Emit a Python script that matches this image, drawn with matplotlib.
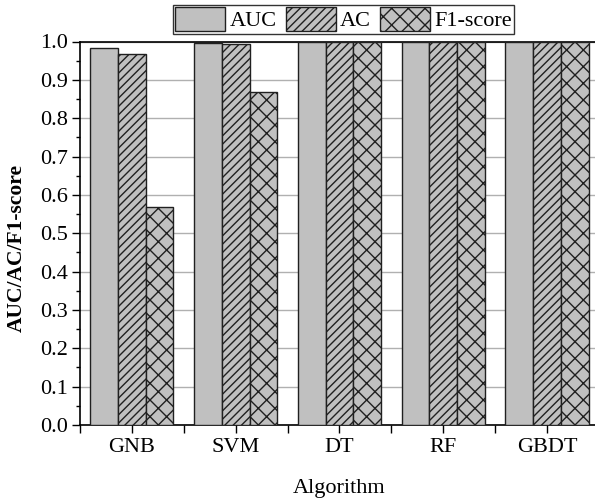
import matplotlib
matplotlib.use("Agg")
import matplotlib.pyplot as plt
import numpy as np
from matplotlib.ticker import MultipleLocator, FixedLocator

plt.rcParams['font.family'] = ['Liberation Serif', 'DejaVu Serif']
plt.rcParams['hatch.linewidth'] = 1.0
plt.rcParams['hatch.color'] = 'black'

algorithms = ['GNB', 'SVM', 'DT', 'RF', 'GBDT']
auc = [0.983, 0.997, 1.0, 1.0, 1.0]
ac = [0.968, 0.994, 1.0, 1.0, 1.0]
f1 = [0.568, 0.869, 1.0, 1.0, 1.0]
series_names = ['AUC', 'AC', 'F1-score']

fig = plt.figure(figsize=(5.95, 5.0), dpi=100)
ax = fig.add_axes([0.1345, 0.15, 0.872, 0.767])

x = np.arange(len(algorithms))
w = 0.267
face = '#c0c0c0'
edge = '#202020'
hatches = [None, '////', 'xx']
for i, (vals, name, h) in enumerate(zip([auc, ac, f1], series_names, hatches)):
    ax.bar(x + (i - 1) * w, vals, width=w, color=face, edgecolor=edge,
           linewidth=1.0, hatch=h, label=name, zorder=3)

ax.set_xlim(-0.5, 4.5)
ax.set_ylim(0, 1.0)
ax.yaxis.set_major_locator(MultipleLocator(0.1))
ax.yaxis.set_minor_locator(MultipleLocator(0.05))
ax.xaxis.set_major_locator(FixedLocator(x))
ax.xaxis.set_minor_locator(FixedLocator(np.arange(-0.5, 4.6, 1.0)))
ax.set_xticklabels(algorithms)
ax.yaxis.set_major_formatter(matplotlib.ticker.FormatStrFormatter('%.1f'))
ax.grid(axis='y', which='major', color='#b0b0b0', linewidth=1.0, zorder=0)
ax.tick_params(axis='both', which='major', direction='out', length=5.5, width=1.0,
               labelsize=16, colors='black')
ax.tick_params(axis='y', which='minor', direction='out', length=3, width=1.0)
ax.tick_params(axis='x', which='minor', direction='out', length=5.5, width=1.0)
for s in ax.spines.values():
    s.set_linewidth(1.2)
    s.set_color('black')

ax.set_ylabel('AUC/AC/F1-score', fontsize=15.5, fontweight='bold')
ax.yaxis.set_label_coords(-0.102, 0.462)
ax.set_xlabel('Algorithm', fontsize=16, labelpad=16)

leg = ax.legend(loc='lower center', bbox_to_anchor=(0.508, 1.0), ncol=3,
                fontsize=16, frameon=True, fancybox=False, edgecolor='black',
                handlelength=2.25, handleheight=1.3, handletextpad=0.2,
                columnspacing=0.4, borderpad=0.1, borderaxespad=0.35)
leg.get_frame().set_linewidth(1.0)

fig.savefig('out.png', dpi=100)
